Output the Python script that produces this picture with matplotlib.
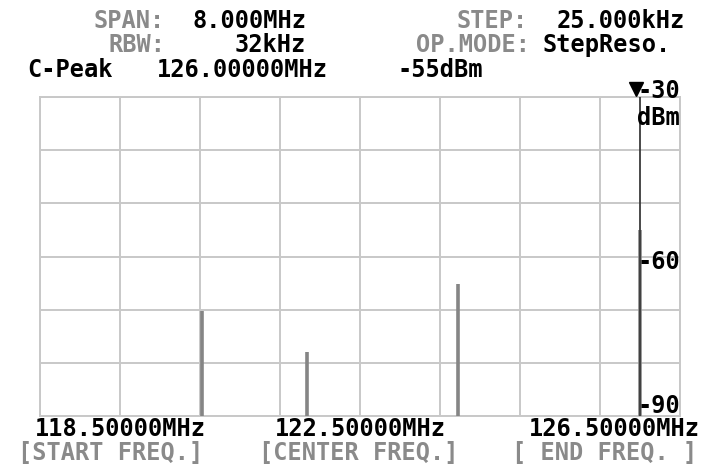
import matplotlib
matplotlib.use("Agg")
import matplotlib.pyplot as plt
import matplotlib.transforms as mtransforms
import numpy as np

# ---- sweep settings ----
start_freq = 118.5      # MHz
end_freq = 126.5        # MHz
ref_level = -30         # dBm (top of screen)
bottom_level = -90      # dBm
db_per_div = 10
mhz_per_div = 1.0

# ---- detected signals ----
spike_freqs = [120.53, 121.84, 123.72, 126.00]   # MHz
spike_levels = [-70.2, -77.9, -65.2, -55.0]      # dBm

# ---- peak marker ----
peak_freq = 126.0
peak_level = -55

# ---- screen texts ----
span_label, span_value = "SPAN:", "8.000MHz"
rbw_label, rbw_value = "RBW:", "32kHz"
step_label, step_value = "STEP:", "25.000kHz"
mode_label, mode_value = "OP.MODE:", "StepReso."
peak_label, peak_freq_text, peak_level_text = "C-Peak", "126.00000MHz", "-55dBm"
freq_texts = ["118.50000MHz", "122.50000MHz", "126.50000MHz"]
freq_keys = ["[START FREQ.]", "[CENTER FREQ.]", "[ END FREQ. ]"]
level_texts = ["-30", "-60", "-90"]
unit_text = "dBm"

W, H, DPI = 714, 466, 100
GRID = "#c8c8c8"
LABEL_GREY = "#8a8a8a"
SPIKE = "#858585"
FONT = dict(family="DejaVu Sans Mono", weight="bold", fontsize=17)

fig = plt.figure(figsize=(W / DPI, H / DPI), dpi=DPI)
fig.patch.set_facecolor("white")


def put(x, y, s, color="black", ha="center", **kw):
    """Place text at a pixel position (x from left, y = baseline from top)."""
    fig.text(x / W, 1 - y / H, s, color=color, ha=ha, va="baseline", **FONT, **kw)


ax = fig.add_axes([40 / W, 50 / H, 640 / W, 319 / H])
ax.set_xlim(start_freq, end_freq)
ax.set_ylim(bottom_level, ref_level)
ax.set_xticks(np.arange(start_freq, end_freq + 0.01, mhz_per_div))
ax.set_yticks(np.arange(bottom_level, ref_level + 0.01, db_per_div))
ax.tick_params(length=0, labelbottom=False, labelleft=False)
ax.grid(True, color=GRID, linewidth=1.4)
ax.set_axisbelow(True)
for sp in ax.spines.values():
    sp.set_color(GRID)
    sp.set_linewidth(1.4)

# signal spikes
ax.vlines(spike_freqs, bottom_level, spike_levels, colors=SPIKE, linewidth=2.6, zorder=3)

# peak marker line and triangle
ax.plot([peak_freq, peak_freq], [bottom_level, ref_level], color="#3a3a3a",
        linewidth=1.3, zorder=4, solid_capstyle="butt")
tri_tr = mtransforms.offset_copy(ax.transData, fig=fig, x=-4, y=8, units="dots")
ax.plot([peak_freq], [ref_level], marker="v", markersize=10, color="black",
        transform=tri_tr, clip_on=False, zorder=5)

# header
put(165, 28, span_label, LABEL_GREY, ha="right")
put(306, 28, span_value, ha="right")
put(165, 52, rbw_label, LABEL_GREY, ha="right")
put(306, 52, rbw_value, ha="right")
put(492, 28, step_label, LABEL_GREY)
put(621, 28, step_value)
put(473, 52, mode_label, LABEL_GREY)
put(607, 52, mode_value)
put(70, 77, peak_label)
put(242, 77, peak_freq_text)
put(440, 77, peak_level_text)

# level scale on the right
put(680, 98, level_texts[0], ha="right")
put(680, 125, unit_text, ha="right")
put(680, 269, level_texts[1], ha="right")
put(680, 413, level_texts[2], ha="right")

# frequency scale
for cx, txt in zip([120, 360, 614], freq_texts):
    put(cx, 436, txt)
for cx, txt in zip([111, 359, 605], freq_keys):
    put(cx, 460, txt, LABEL_GREY)

fig.savefig("out.png", dpi=DPI, facecolor="white")
